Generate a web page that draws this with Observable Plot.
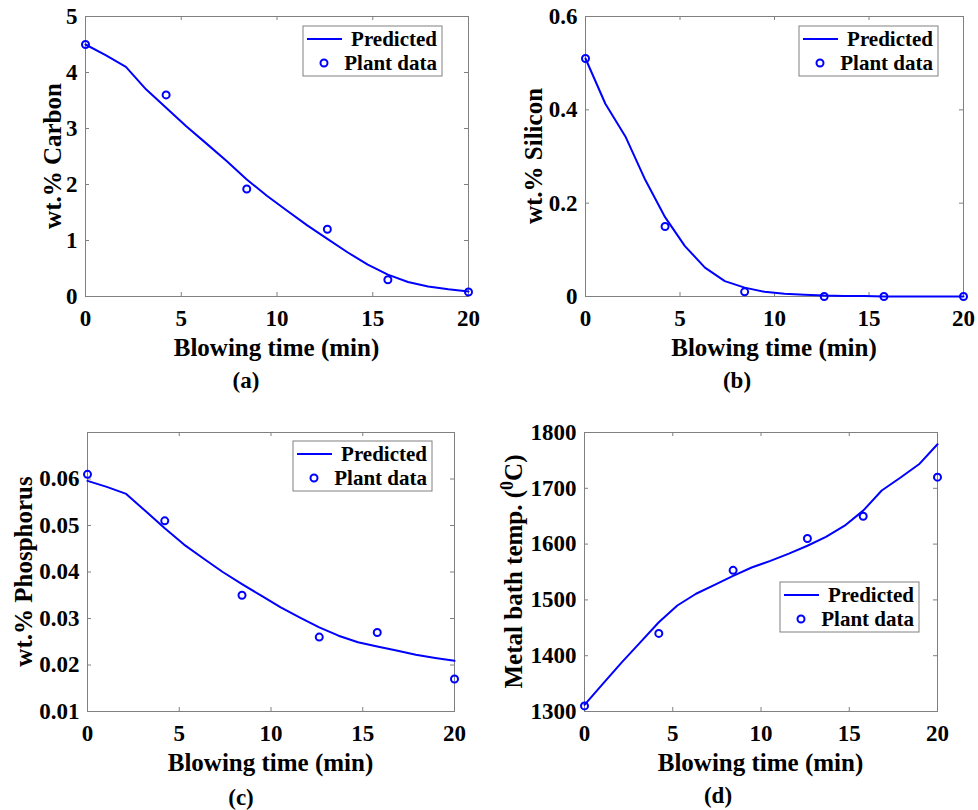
<!DOCTYPE html>
<html>
<head>
<meta charset="utf-8">
<script src="https://cdn.jsdelivr.net/npm/d3@7"></script>
<script src="https://cdn.jsdelivr.net/npm/@observablehq/plot@0.6"></script>
<style>
  body { margin: 0; background: #fff; }
  #wrap { position: relative; width: 978px; height: 810px; background: #fff; }
  .panel { position: absolute; }
  .panel svg, .panel svg text { font-family: "Liberation Serif", "Times New Roman", serif !important; font-weight: bold !important; }
  .panel svg { overflow: visible; }
</style>
</head>
<body>
<div id="wrap"></div>
<script>
// ---------------- data ----------------
const time = [0, 1.05, 2.11, 3.16, 4.21, 5.26, 6.32, 7.37, 8.42, 9.47, 10.53, 11.58, 12.63, 13.68, 14.74, 15.79, 16.84, 17.89, 18.95, 20];
const plantTime = [0, 4.21, 8.42, 12.63, 15.79, 20];

const carbonPredicted = [4.5, 4.31, 4.1, 3.7, 3.37, 3.04, 2.73, 2.42, 2.09, 1.8, 1.53, 1.27, 1.03, 0.79, 0.57, 0.39, 0.26, 0.18, 0.13, 0.09];
const carbonPlant = [4.5, 3.6, 1.92, 1.2, 0.3, 0.08];

const siliconPredicted = [0.51, 0.413, 0.343, 0.25, 0.17, 0.108, 0.062, 0.033, 0.019, 0.01, 0.006, 0.004, 0.002, 0.001, 0.001, 0, 0, 0, 0, 0];
const siliconPlant = [0.51, 0.15, 0.01, 0, 0, 0];

const phosphorusPredicted = [0.0596, 0.0583, 0.0568, 0.0531, 0.0494, 0.0459, 0.0429, 0.0400, 0.0374, 0.0349, 0.0324, 0.0302, 0.0281, 0.0263, 0.0249, 0.0240, 0.0231, 0.0222, 0.0215, 0.0209];
const phosphorusPlant = [0.061, 0.051, 0.035, 0.026, 0.027, 0.017];

const tempPredicted = [1312, 1350, 1388, 1424, 1460, 1490, 1511, 1527, 1543, 1558, 1570, 1583, 1597, 1613, 1633, 1660, 1696, 1719, 1743, 1779];
const tempPlant = [1310, 1440, 1553, 1610, 1650, 1720];

const xTicks = [0, 5, 10, 15, 20];
const carbonTicks = [0, 1, 2, 3, 4, 5];
const siliconTicks = [0, 0.2, 0.4, 0.6];
const phosphorusTicks = [0.01, 0.02, 0.03, 0.04, 0.05, 0.06];
const tempTicks = [1300, 1400, 1500, 1600, 1700, 1800];

const xLabel = "Blowing time (min)";
const legendLabels = ["Predicted", "Plant data"];

// ---------------- style ----------------
const FONT = '"Liberation Serif", "Times New Roman", serif';
const BLUE = "#0000ff";
const GRAY = "#808080";
const W = 489, H = 405;

const panels = [
  {left: 0, top: 0, ml: 85, mr: 21, mt: 16, mb: 109, domain: [0, 5], ticks: carbonTicks,
   pred: carbonPredicted, plant: carbonPlant, yLabel: ["wt.% Carbon"], yOff: 33,
   caption: "(a)", capX: 246, capDy: 84, legRight: 26, legTop: 10},
  {left: 489, top: 0, ml: 96, mr: 15, mt: 16, mb: 109, domain: [0, 0.6], ticks: siliconTicks,
   pred: siliconPredicted, plant: siliconPlant, yLabel: ["wt.% Silicon"], yOff: 52,
   caption: "(b)", capX: 248, capDy: 84, legRight: 25, legTop: 10},
  {left: 0, top: 405, ml: 87, mr: 35, mt: 27, mb: 99, domain: [0.01, 0.07], ticks: phosphorusTicks,
   pred: phosphorusPredicted, plant: phosphorusPlant, yLabel: ["wt.% Phosphorus"], yOff: 64,
   caption: "(c)", capX: 241, capDy: 86, legRight: 22, legTop: 9},
  {left: 489, top: 405, ml: 95, mr: 41, mt: 27, mb: 99, domain: [1300, 1800], ticks: tempTicks,
   pred: tempPredicted, plant: tempPlant, yLabel: ["Metal bath temp. (", {sup: "0"}, "C)"], yOff: 71,
   caption: "(d)", capX: 229, capDy: 84, legRight: 18, legTop: 150}
];

function labelsMark(p) {
  return () => {
    const innerW = W - p.ml - p.mr, innerH = H - p.mt - p.mb;
    const g = d3.create("svg:g")
      .attr("font-family", FONT).attr("font-weight", "bold").attr("fill", "black");
    g.append("text")
      .attr("x", p.ml + innerW / 2).attr("y", p.mt + innerH + 51).attr("dy", "0.35em")
      .attr("text-anchor", "middle").attr("font-size", 25).text(xLabel);
    const yl = g.append("text")
      .attr("transform", `translate(${p.ml - p.yOff},${p.mt + innerH / 2}) rotate(-90)`)
      .attr("dy", "0.35em").attr("text-anchor", "middle").attr("font-size", 25);
    let shifted = false;
    for (const part of p.yLabel) {
      if (typeof part === "string") {
        const t = yl.append("tspan").text(part);
        if (shifted) { t.attr("dy", 9); shifted = false; }
      } else {
        yl.append("tspan").attr("dy", -9).attr("font-size", 18).text(part.sup);
        shifted = true;
      }
    }
    g.append("text")
      .attr("x", p.capX).attr("y", p.mt + innerH + p.capDy).attr("dy", "0.35em")
      .attr("text-anchor", "middle").attr("font-size", 23).text(p.caption);
    return g.node();
  };
}

function legendMark(p) {
  return () => {
    const innerW = W - p.ml - p.mr;
    const bw = 139, bh = 50;
    const g = d3.create("svg:g")
      .attr("transform", `translate(${p.ml + innerW - p.legRight - bw},${p.mt + p.legTop})`)
      .attr("font-family", FONT).attr("font-weight", "bold");
    g.append("rect").attr("width", bw).attr("height", bh)
      .attr("fill", "white").attr("stroke", GRAY).attr("stroke-width", 1);
    g.append("line").attr("x1", 4).attr("x2", 39).attr("y1", 13).attr("y2", 13)
      .attr("stroke", BLUE).attr("stroke-width", 2);
    g.append("circle").attr("cx", 21).attr("cy", 37).attr("r", 3.5)
      .attr("fill", "none").attr("stroke", BLUE).attr("stroke-width", 2);
    [13, 37].forEach((y, i) => {
      g.append("text").attr("x", bw - 5).attr("y", y).attr("dy", "0.35em")
        .attr("text-anchor", "end").attr("font-size", 21).attr("fill", "black")
        .text(legendLabels[i]);
    });
    return g.node();
  };
}

function makePanel(p) {
  const innerW = W - p.ml - p.mr, innerH = H - p.mt - p.mb;
  const pred = time.map((t, i) => ({t, v: p.pred[i]}));
  const plant = plantTime.map((t, i) => ({t, v: p.plant[i]}));
  return Plot.plot({
    width: W, height: H,
    marginLeft: p.ml, marginRight: p.mr, marginTop: p.mt, marginBottom: p.mb,
    style: {fontFamily: FONT, fontWeight: "bold", background: "white", overflow: "visible", color: "black"},
    x: {domain: [0, 20]},
    y: {domain: p.domain},
    marks: [
      Plot.ruleX(xTicks, {x: d => d, stroke: GRAY, insetTop: innerH - 4}),
      Plot.ruleX(xTicks, {x: d => d, stroke: GRAY, insetBottom: innerH - 4}),
      Plot.ruleY(p.ticks, {y: d => d, stroke: GRAY, insetRight: innerW - 4}),
      Plot.ruleY(p.ticks, {y: d => d, stroke: GRAY, insetLeft: innerW - 4}),
      Plot.frame({stroke: GRAY}),
      Plot.axisX({ticks: xTicks, tickSize: 0, tickPadding: 13, fontSize: 23, fontWeight: "bold",
                  fill: "black", label: null, tickFormat: d => String(d)}),
      Plot.axisY({ticks: p.ticks, tickSize: 0, tickPadding: 8, fontSize: 23, fontWeight: "bold",
                  fill: "black", label: null, tickFormat: d => String(d)}),
      Plot.line(pred, {x: "t", y: "v", stroke: BLUE, strokeWidth: 2}),
      Plot.dot(plant, {x: "t", y: "v", r: 3.5, stroke: BLUE, strokeWidth: 2, fill: "none"}),
      labelsMark(p),
      legendMark(p)
    ]
  });
}

const wrap = document.getElementById("wrap");
for (const p of panels) {
  const div = document.createElement("div");
  div.className = "panel";
  div.style.left = p.left + "px";
  div.style.top = p.top + "px";
  div.appendChild(makePanel(p));
  wrap.appendChild(div);
}
</script>
</body>
</html>
